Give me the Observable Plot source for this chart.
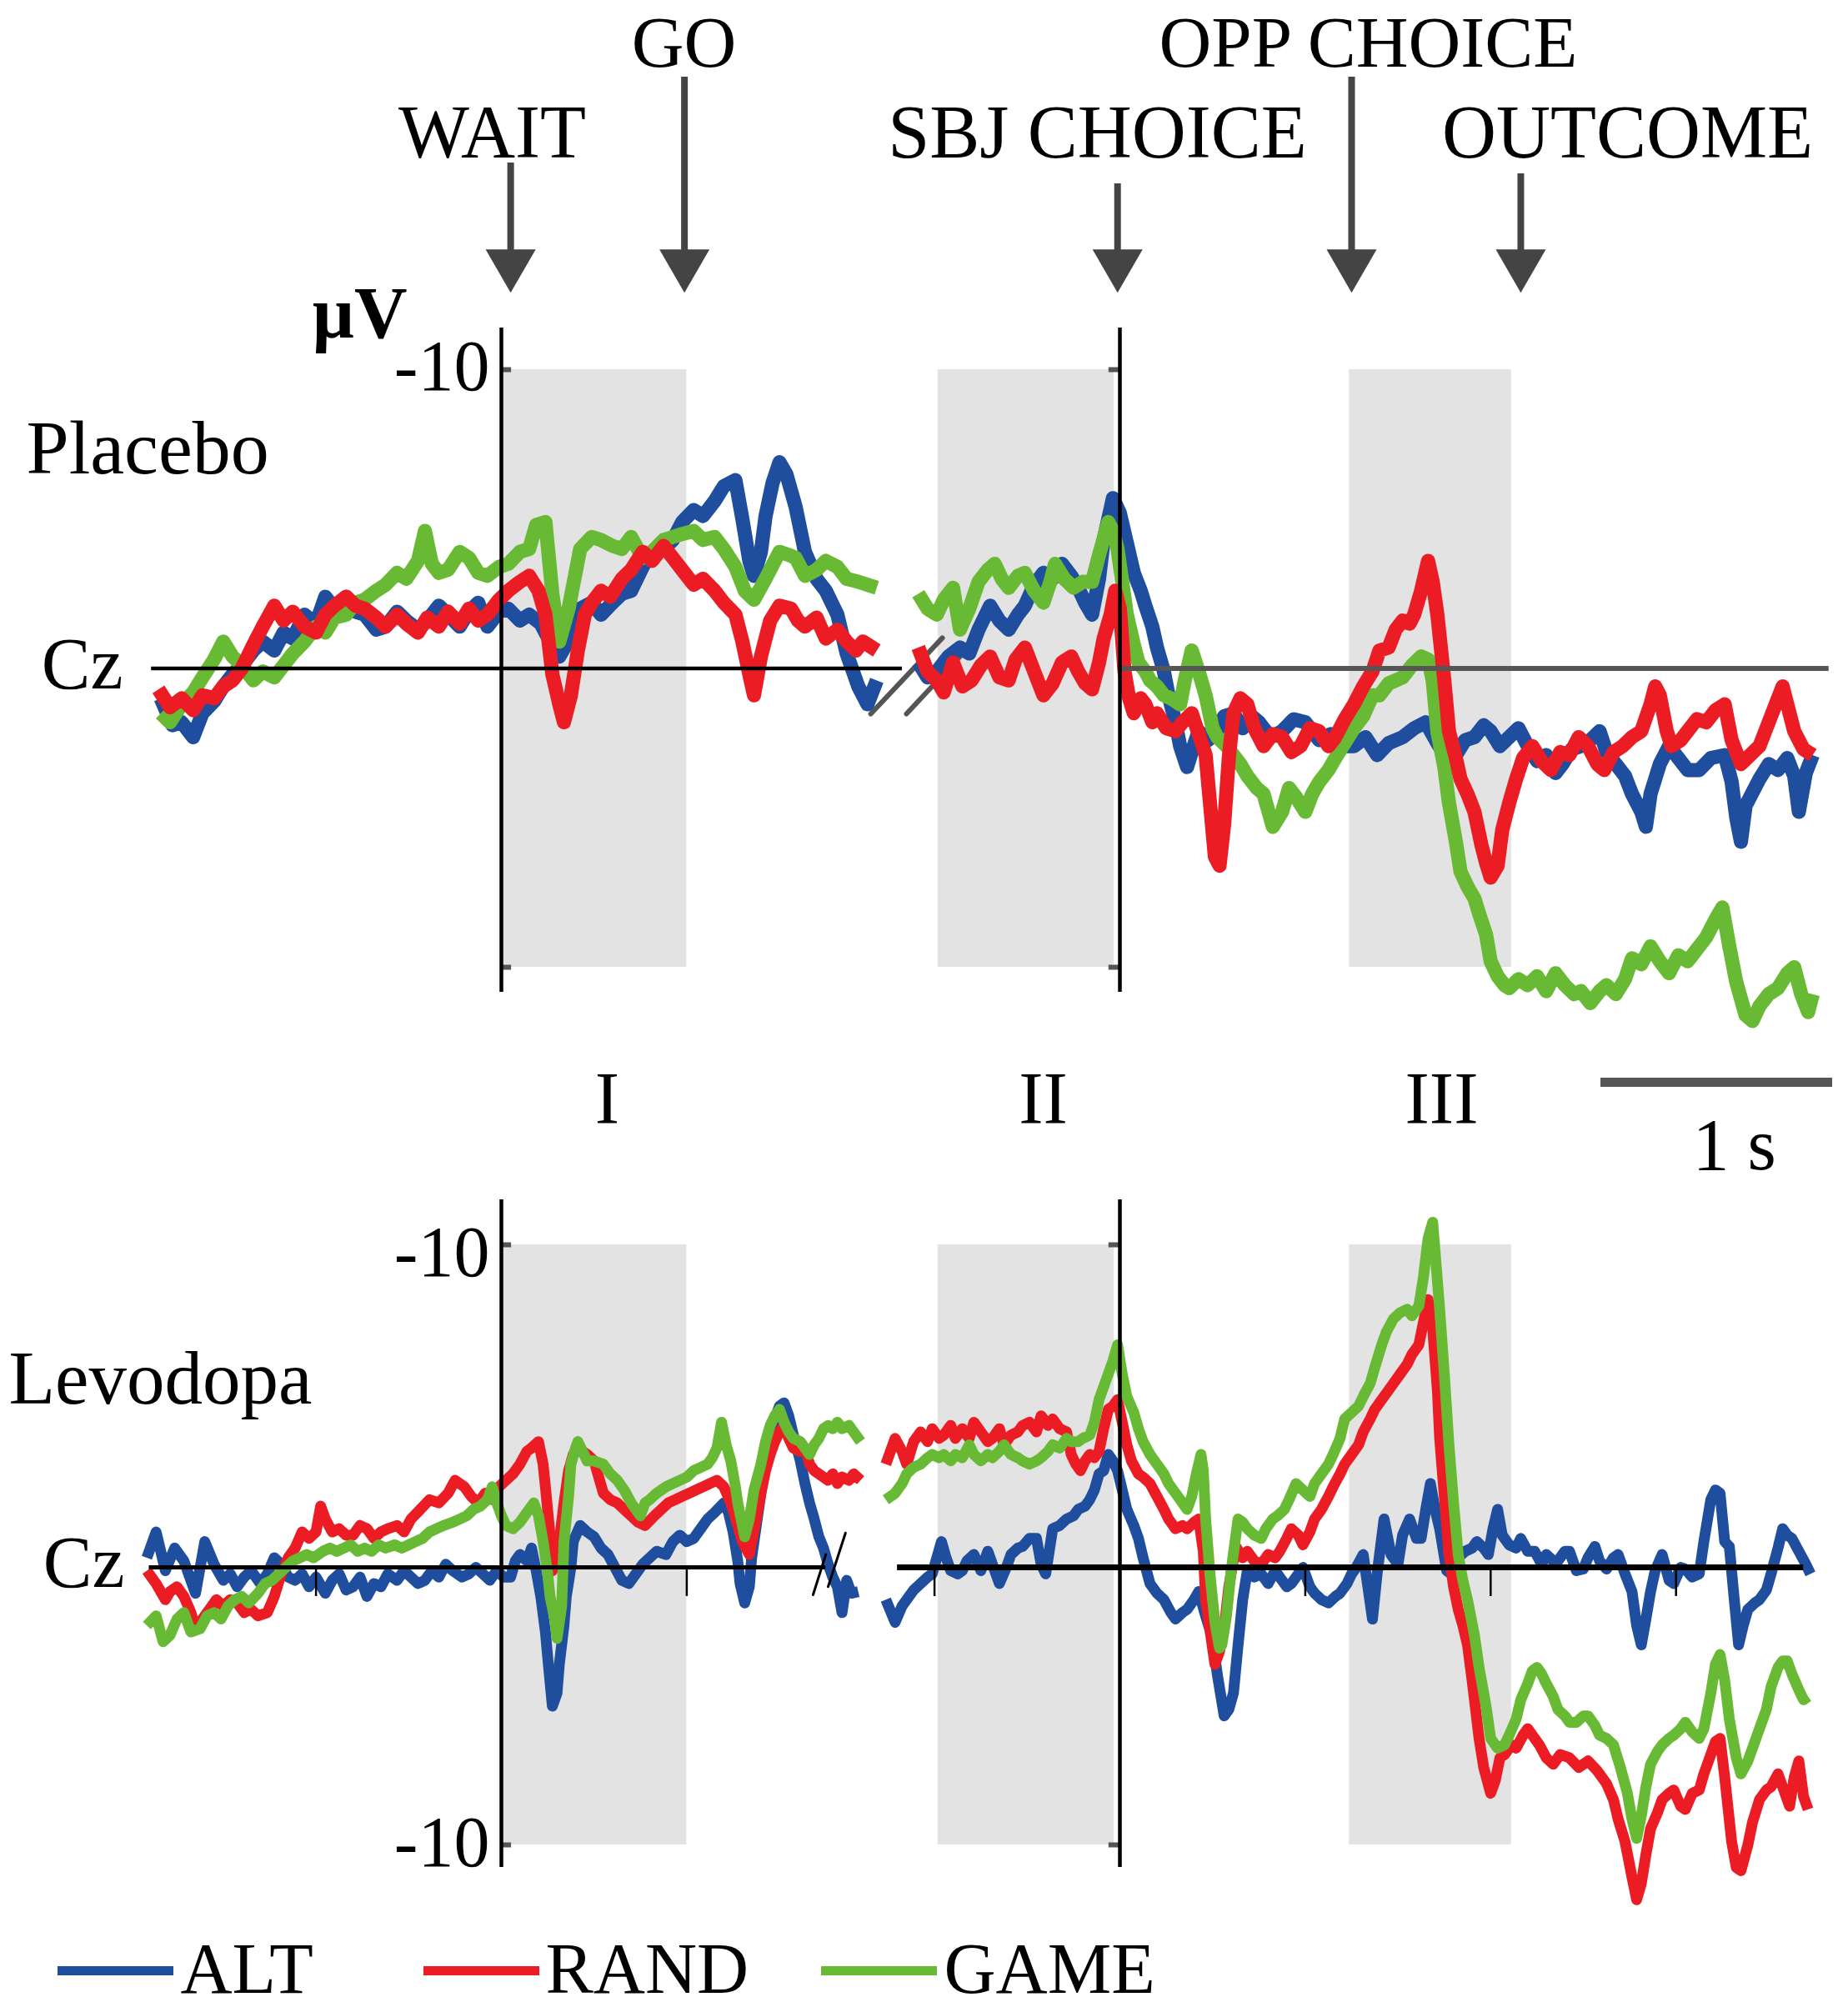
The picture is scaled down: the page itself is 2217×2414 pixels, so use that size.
<!DOCTYPE html>
<html><head><meta charset="utf-8">
<script src="https://cdn.jsdelivr.net/npm/d3@7"></script>
<script src="https://cdn.jsdelivr.net/npm/@observablehq/plot@0.6"></script>
<style>
html,body{margin:0;padding:0;background:#fff;}
#chart{width:2217px;}
#chart svg{display:block;}
</style></head><body><div id="chart"></div>
<script>
// ---------------- DATA ----------------
// Times in seconds. Segment 1: relative to WAIT; segment 2: relative to SBJ CHOICE. Values in µV (negative up).
const series = ["ALT", "RAND", "GAME"];
const events = ["WAIT", "GO", "SBJ CHOICE", "OPP CHOICE", "OUTCOME"];
const eventSeg1Times = [0.04, 0.79];          // WAIT, GO (segment 1)
const eventSeg2Times = [-0.01, 1.0, 1.73];    // SBJ CHOICE, OPP CHOICE, OUTCOME (segment 2)
const windowsSeg1 = [[0, 0.8]];                       // I
const windowsSeg2 = [[-0.785, -0.025], [0.99, 1.69]]; // II, III
const windowLabels = ["I", "II", "III"];
const yTickLabels = ["-10", "-10"];
const panelLabels = ["Placebo", "Levodopa"];
const channelLabel = "Cz";
const unitLabel = "µV";
const scaleBarLabel = "1 s";
const scaleBarSeconds = 1;
const levoBaselineTicksSeg1 = [-0.8, 0.8];
const levoBaselineTicksSeg2 = [-0.8, 0.8, 1.6, 2.4];

const placeboALT1 = [[-1.47,1.0],[-1.42,1.9],[-1.38,1.8],[-1.33,2.3],[-1.29,1.5],[-1.24,1.1],[-1.2,0.6],[-1.16,0.2],[-1.12,-0.1],[-1.07,-0.6],[-1.03,-0.9],[-0.98,-0.6],[-0.94,-1.2],[-0.9,-1.0],[-0.85,-1.8],[-0.8,-1.5],[-0.76,-2.4],[-0.72,-2.0],[-0.67,-2.4],[-0.63,-1.9],[-0.59,-1.8],[-0.54,-1.3],[-0.5,-1.4],[-0.45,-1.9],[-0.41,-1.6],[-0.36,-1.3],[-0.32,-1.6],[-0.27,-2.1],[-0.23,-1.8],[-0.18,-1.4],[-0.14,-1.9],[-0.1,-2.2],[-0.06,-1.4],[-0.01,-1.9],[0.03,-2.0],[0.08,-1.6],[0.12,-1.8],[0.17,-1.5],[0.21,-0.9],[0.25,-0.4],[0.28,-0.8],[0.3,-1.2],[0.34,-2.0],[0.39,-2.2],[0.43,-1.8],[0.48,-2.2],[0.52,-2.5],[0.56,-2.6],[0.61,-3.4],[0.65,-3.9],[0.7,-4.0],[0.74,-4.3],[0.78,-4.9],[0.83,-5.3],[0.87,-5.1],[0.92,-5.6],[0.96,-6.1],[1.01,-6.3],[1.04,-5.0],[1.07,-3.6],[1.09,-3.1],[1.12,-3.9],[1.14,-5.1],[1.17,-6.2],[1.2,-6.9],[1.23,-6.5],[1.27,-5.4],[1.31,-3.9],[1.36,-3.0],[1.4,-2.6],[1.45,-1.8],[1.49,-0.5],[1.54,0.6],[1.58,1.2],[1.62,0.4]];
const placeboRAND1 = [[-1.48,0.7],[-1.43,1.3],[-1.38,1.0],[-1.33,1.4],[-1.29,0.9],[-1.24,1.0],[-1.2,0.6],[-1.16,0.4],[-1.12,0.0],[-1.07,-0.8],[-1.03,-1.4],[-0.98,-2.1],[-0.94,-1.6],[-0.9,-1.9],[-0.85,-1.4],[-0.8,-1.2],[-0.76,-1.8],[-0.72,-2.1],[-0.67,-2.4],[-0.63,-2.1],[-0.59,-2.0],[-0.54,-1.7],[-0.5,-1.4],[-0.45,-1.8],[-0.41,-1.5],[-0.36,-1.2],[-0.32,-1.7],[-0.27,-1.4],[-0.23,-1.9],[-0.18,-1.5],[-0.14,-2.0],[-0.1,-1.6],[-0.06,-1.8],[-0.01,-2.3],[0.03,-2.6],[0.08,-2.9],[0.12,-3.1],[0.16,-2.6],[0.19,-1.8],[0.22,0.2],[0.25,1.2],[0.27,1.8],[0.3,0.9],[0.33,-0.6],[0.36,-1.8],[0.39,-2.2],[0.43,-2.6],[0.47,-2.4],[0.52,-3.0],[0.56,-3.3],[0.61,-3.9],[0.65,-3.6],[0.7,-4.1],[0.74,-3.7],[0.78,-3.3],[0.83,-2.8],[0.87,-3.0],[0.92,-2.6],[0.96,-2.2],[1.01,-1.8],[1.04,-0.9],[1.07,0.2],[1.09,0.9],[1.12,-0.4],[1.16,-1.6],[1.2,-2.1],[1.25,-2.0],[1.28,-1.6],[1.31,-1.4],[1.36,-1.7],[1.4,-1.0],[1.45,-1.3],[1.49,-0.9],[1.53,-0.6],[1.56,-0.9],[1.62,-0.6]];
const placeboGAME1 = [[-1.47,1.5],[-1.43,1.8],[-1.38,1.2],[-1.33,0.8],[-1.29,0.3],[-1.24,-0.3],[-1.2,-0.9],[-1.16,-0.4],[-1.12,-0.1],[-1.07,0.4],[-1.03,0.1],[-0.98,0.3],[-0.94,-0.1],[-0.9,-0.5],[-0.85,-0.9],[-0.8,-1.4],[-0.76,-1.2],[-0.72,-1.7],[-0.67,-1.8],[-0.63,-2.2],[-0.59,-2.3],[-0.54,-2.6],[-0.5,-2.8],[-0.45,-3.2],[-0.41,-3.0],[-0.36,-3.6],[-0.33,-4.6],[-0.3,-3.5],[-0.27,-3.2],[-0.23,-3.3],[-0.18,-3.9],[-0.14,-3.7],[-0.1,-3.2],[-0.06,-3.1],[-0.01,-3.4],[0.03,-3.5],[0.08,-3.9],[0.12,-4.0],[0.15,-4.8],[0.19,-4.9],[0.22,-2.5],[0.25,-0.9],[0.29,-2.0],[0.34,-4.0],[0.39,-4.4],[0.43,-4.3],[0.48,-4.1],[0.52,-4.0],[0.56,-4.4],[0.61,-3.7],[0.65,-3.9],[0.7,-4.3],[0.74,-4.4],[0.78,-4.5],[0.83,-4.6],[0.87,-4.3],[0.92,-4.4],[0.96,-4.0],[1.01,-3.4],[1.05,-2.6],[1.09,-2.3],[1.14,-3.0],[1.18,-3.6],[1.2,-3.9],[1.24,-3.8],[1.27,-3.7],[1.31,-3.1],[1.36,-3.3],[1.4,-3.6],[1.45,-3.4],[1.49,-3.0],[1.54,-2.9],[1.58,-2.8],[1.62,-2.7]];

const placeboALT2 = [[-0.87,-0.2],[-0.83,0.3],[-0.79,0.1],[-0.74,-0.4],[-0.69,-0.7],[-0.65,-0.5],[-0.61,-1.3],[-0.56,-2.1],[-0.52,-1.6],[-0.48,-1.3],[-0.44,-1.8],[-0.41,-2.1],[-0.37,-2.8],[-0.33,-3.2],[-0.29,-3.0],[-0.25,-3.5],[-0.21,-3.1],[-0.18,-2.7],[-0.15,-2.2],[-0.12,-1.8],[-0.09,-3.0],[-0.07,-4.3],[-0.03,-5.7],[0.0,-5.2],[0.03,-4.2],[0.06,-3.2],[0.09,-2.6],[0.11,-2.1],[0.14,-1.4],[0.16,-0.7],[0.19,0.1],[0.21,0.9],[0.24,1.8],[0.26,2.6],[0.29,3.3],[0.31,2.8],[0.34,2.1],[0.38,2.4],[0.42,2.1],[0.45,1.6],[0.49,1.5],[0.53,2.0],[0.57,1.6],[0.6,1.8],[0.65,2.3],[0.7,2.1],[0.75,1.7],[0.8,1.8],[0.86,2.4],[0.91,2.2],[0.96,2.6],[1.01,2.6],[1.06,2.3],[1.11,2.9],[1.16,2.5],[1.22,2.3],[1.27,2.0],[1.32,1.8],[1.37,2.5],[1.41,3.0],[1.45,2.9],[1.49,2.4],[1.53,2.3],[1.57,1.9],[1.6,2.1],[1.64,2.6],[1.68,2.3],[1.72,2.0],[1.76,2.6],[1.8,3.1],[1.84,2.9],[1.88,3.5],[1.91,3.2],[1.95,2.7],[1.99,2.6],[2.03,2.4],[2.07,2.1],[2.1,2.8],[2.14,3.2],[2.18,3.6],[2.21,4.2],[2.25,4.8],[2.27,5.3],[2.29,4.2],[2.33,3.2],[2.37,2.6],[2.4,2.9],[2.45,3.4],[2.5,3.4],[2.55,3.0],[2.61,2.9],[2.64,3.8],[2.66,5.0],[2.68,5.8],[2.7,4.6],[2.76,3.7],[2.8,3.2],[2.84,3.4],[2.88,3.0],[2.91,3.6],[2.93,4.8],[2.96,3.5],[2.99,2.9]];
const placeboRAND2 = [[-0.87,-0.7],[-0.83,0.1],[-0.79,0.4],[-0.76,0.8],[-0.72,-0.2],[-0.68,0.6],[-0.64,0.4],[-0.6,-0.1],[-0.56,-0.4],[-0.52,0.3],[-0.48,0.4],[-0.45,-0.3],[-0.41,-0.7],[-0.37,0.1],[-0.33,0.9],[-0.29,0.5],[-0.25,-0.2],[-0.21,-0.4],[-0.18,0.1],[-0.15,0.5],[-0.12,0.7],[-0.09,-0.2],[-0.07,-1.0],[-0.04,-1.8],[-0.02,-2.6],[0.0,-2.0],[0.02,0.1],[0.04,1.0],[0.06,1.5],[0.09,1.0],[0.11,1.2],[0.14,1.8],[0.16,1.5],[0.2,2.0],[0.24,2.1],[0.27,1.8],[0.31,1.5],[0.34,2.2],[0.37,2.9],[0.39,4.6],[0.41,6.3],[0.43,6.6],[0.45,5.2],[0.47,3.0],[0.49,1.5],[0.52,1.0],[0.55,1.2],[0.58,2.0],[0.62,2.6],[0.66,2.2],[0.7,2.3],[0.74,2.8],[0.78,2.6],[0.82,2.0],[0.86,2.1],[0.9,2.6],[0.93,2.3],[0.97,1.7],[1.01,1.2],[1.05,0.6],[1.09,0.1],[1.12,-0.6],[1.16,-0.7],[1.19,-1.3],[1.22,-1.6],[1.25,-1.5],[1.27,-1.8],[1.3,-2.6],[1.33,-3.6],[1.35,-2.9],[1.37,-1.8],[1.4,0.4],[1.42,2.1],[1.45,3.0],[1.47,3.7],[1.5,4.2],[1.53,4.8],[1.56,5.9],[1.58,6.5],[1.6,7.0],[1.63,6.6],[1.65,5.4],[1.68,4.5],[1.71,3.7],[1.74,3.0],[1.78,2.6],[1.82,3.1],[1.86,3.4],[1.9,2.8],[1.94,2.9],[1.98,2.3],[2.02,2.6],[2.06,3.2],[2.09,3.4],[2.13,2.8],[2.17,2.6],[2.21,2.3],[2.25,2.1],[2.29,1.2],[2.31,0.6],[2.33,0.9],[2.36,2.1],[2.38,2.6],[2.42,2.4],[2.45,2.1],[2.49,1.7],[2.53,1.8],[2.57,1.4],[2.61,1.2],[2.64,2.4],[2.68,3.2],[2.72,2.9],[2.76,2.6],[2.8,1.8],[2.84,1.0],[2.86,0.6],[2.88,1.2],[2.91,2.1],[2.95,2.7],[2.99,2.9]];
const placeboGAME2 = [[-0.87,-2.5],[-0.83,-2.0],[-0.79,-1.8],[-0.76,-2.3],[-0.72,-2.7],[-0.69,-1.3],[-0.65,-2.0],[-0.61,-2.9],[-0.57,-3.3],[-0.54,-3.5],[-0.51,-3.0],[-0.48,-2.7],[-0.44,-3.1],[-0.41,-3.2],[-0.37,-2.6],[-0.33,-2.2],[-0.3,-2.9],[-0.28,-3.5],[-0.24,-3.0],[-0.2,-2.7],[-0.16,-2.9],[-0.12,-2.9],[-0.09,-3.8],[-0.05,-4.9],[-0.03,-4.6],[-0.01,-4.0],[0.01,-2.9],[0.03,-1.8],[0.06,-0.8],[0.08,-0.2],[0.11,0.1],[0.13,0.4],[0.16,0.6],[0.19,0.9],[0.22,1.0],[0.26,1.2],[0.28,0.4],[0.31,-0.6],[0.34,0.1],[0.37,0.9],[0.4,2.0],[0.42,2.3],[0.46,2.6],[0.49,2.9],[0.52,3.2],[0.55,3.6],[0.59,4.0],[0.62,4.2],[0.66,5.3],[0.7,4.8],[0.73,4.0],[0.76,4.3],[0.8,4.8],[0.83,4.2],[0.86,3.8],[0.9,3.4],[0.93,3.0],[0.97,2.5],[1.01,2.0],[1.05,1.6],[1.09,0.9],[1.12,0.9],[1.16,0.5],[1.19,0.4],[1.22,0.3],[1.26,-0.1],[1.3,-0.4],[1.33,-0.3],[1.35,0.4],[1.37,2.1],[1.4,3.3],[1.42,4.5],[1.45,5.8],[1.47,6.8],[1.5,7.3],[1.53,7.7],[1.55,8.2],[1.58,8.9],[1.6,9.8],[1.63,10.3],[1.66,10.6],[1.68,10.7],[1.72,10.4],[1.76,10.6],[1.8,10.3],[1.84,10.8],[1.88,10.2],[1.92,10.6],[1.96,10.9],[1.99,10.8],[2.03,11.2],[2.07,10.8],[2.1,10.6],[2.14,10.9],[2.18,10.4],[2.21,9.7],[2.25,9.9],[2.29,9.3],[2.33,9.8],[2.37,10.2],[2.41,9.6],[2.45,9.8],[2.49,9.4],[2.53,9.0],[2.57,8.4],[2.6,8.0],[2.63,9.3],[2.66,10.5],[2.7,11.6],[2.73,11.8],[2.76,11.3],[2.8,10.9],[2.84,10.7],[2.88,10.2],[2.91,10.0],[2.94,10.9],[2.97,11.5],[2.99,10.9]];

const levoALT1 = [[-1.53,-0.3],[-1.49,-1.1],[-1.45,0.1],[-1.41,-0.6],[-1.37,-0.2],[-1.32,0.8],[-1.28,-0.8],[-1.24,-0.1],[-1.2,0.4],[-1.17,0.2],[-1.14,0.6],[-1.11,0.3],[-1.08,0.1],[-1.04,0.5],[-1.01,0.2],[-0.98,-0.3],[-0.95,-0.1],[-0.92,0.3],[-0.89,0.4],[-0.86,0.2],[-0.83,0.6],[-0.8,0.3],[-0.76,0.8],[-0.73,0.4],[-0.7,0.2],[-0.67,0.7],[-0.64,0.6],[-0.61,0.3],[-0.58,0.9],[-0.55,0.5],[-0.52,0.6],[-0.49,0.2],[-0.45,0.4],[-0.42,0.1],[-0.39,0.3],[-0.36,0.5],[-0.33,0.4],[-0.3,0.1],[-0.27,0.3],[-0.24,-0.1],[-0.21,0.1],[-0.17,0.3],[-0.14,0.2],[-0.11,0.0],[-0.08,0.2],[-0.05,0.4],[-0.02,0.1],[0.01,0.3],[0.04,0.3],[0.06,-0.2],[0.08,-0.4],[0.11,-0.2],[0.13,-0.6],[0.15,0.1],[0.17,0.9],[0.19,2.0],[0.2,2.8],[0.22,4.3],[0.24,3.9],[0.25,3.0],[0.27,1.8],[0.28,0.9],[0.3,0.0],[0.31,-0.8],[0.34,-1.3],[0.37,-1.1],[0.4,-0.95],[0.43,-0.6],[0.46,-0.4],[0.49,0.0],[0.52,0.4],[0.55,0.5],[0.58,0.2],[0.61,-0.1],[0.64,-0.3],[0.67,-0.5],[0.71,-0.4],[0.74,-0.8],[0.77,-1.0],[0.8,-0.8],[0.83,-0.9],[0.86,-1.2],[0.89,-1.5],[0.92,-1.7],[0.96,-2.0],[0.98,-1.7],[1.0,-1.1],[1.02,-0.2],[1.03,0.5],[1.05,1.1],[1.07,0.6],[1.08,-0.3],[1.1,-1.3],[1.12,-2.3],[1.14,-3.2],[1.16,-4.0],[1.18,-4.6],[1.2,-5.0],[1.22,-5.1],[1.24,-4.7],[1.26,-4.1],[1.29,-3.3],[1.31,-2.6],[1.33,-2.0],[1.35,-1.5],[1.37,-0.95],[1.39,-0.6],[1.41,-0.1],[1.43,0.3],[1.45,0.6],[1.47,1.4],[1.49,0.4],[1.51,0.8],[1.54,0.75]];
const levoRAND1 = [[-1.53,0.1],[-1.49,0.5],[-1.45,1.0],[-1.43,0.75],[-1.4,0.6],[-1.37,0.9],[-1.34,1.4],[-1.32,1.9],[-1.29,1.6],[-1.26,1.3],[-1.23,1.0],[-1.2,1.2],[-1.17,1.0],[-1.14,1.1],[-1.11,1.4],[-1.08,1.3],[-1.05,1.5],[-1.01,1.4],[-0.98,0.9],[-0.95,0.2],[-0.92,-0.3],[-0.89,-0.6],[-0.86,-1.1],[-0.83,-0.9],[-0.8,-1.1],[-0.78,-1.9],[-0.76,-1.5],[-0.73,-1.1],[-0.7,-1.2],[-0.67,-1.0],[-0.64,-1.0],[-0.61,-1.3],[-0.58,-1.2],[-0.55,-0.9],[-0.52,-1.1],[-0.49,-1.2],[-0.45,-1.3],[-0.42,-1.1],[-0.39,-1.5],[-0.35,-1.8],[-0.31,-2.1],[-0.27,-2.0],[-0.23,-2.3],[-0.2,-2.7],[-0.16,-2.5],[-0.13,-2.2],[-0.1,-2.0],[-0.07,-2.3],[-0.04,-2.1],[-0.01,-2.5],[0.02,-2.7],[0.05,-2.9],[0.08,-3.2],[0.11,-3.6],[0.13,-3.7],[0.16,-3.9],[0.18,-3.2],[0.19,-2.5],[0.21,-1.0],[0.22,0.1],[0.24,-0.3],[0.25,-0.8],[0.27,-2.0],[0.29,-3.0],[0.31,-3.5],[0.33,-3.7],[0.37,-3.5],[0.4,-3.3],[0.44,-2.3],[0.47,-2.1],[0.5,-2.0],[0.53,-1.8],[0.56,-1.6],[0.59,-1.4],[0.62,-1.3],[0.66,-1.6],[0.69,-1.8],[0.72,-2.0],[0.75,-2.1],[0.78,-2.2],[0.81,-2.3],[0.84,-2.4],[0.87,-2.5],[0.9,-2.6],[0.93,-2.7],[0.96,-2.5],[0.99,-2.0],[1.02,-1.3],[1.04,-0.8],[1.07,-0.4],[1.1,-1.5],[1.12,-2.3],[1.14,-3.0],[1.16,-3.5],[1.18,-3.9],[1.2,-4.2],[1.22,-4.4],[1.24,-4.0],[1.26,-3.7],[1.29,-3.6],[1.31,-3.7],[1.33,-3.2],[1.35,-3.0],[1.37,-2.9],[1.39,-2.8],[1.41,-2.7],[1.43,-2.9],[1.45,-2.6],[1.47,-2.8],[1.5,-2.7],[1.52,-2.9],[1.55,-2.7]];
const levoGAME1 = [[-1.53,1.8],[-1.49,1.5],[-1.46,2.3],[-1.43,2.1],[-1.4,1.6],[-1.37,1.4],[-1.34,2.0],[-1.3,1.9],[-1.27,1.5],[-1.24,1.4],[-1.21,1.6],[-1.18,1.2],[-1.15,1.0],[-1.12,0.9],[-1.09,1.1],[-1.05,0.8],[-1.02,0.5],[-0.99,0.4],[-0.96,0.2],[-0.93,0.0],[-0.9,-0.2],[-0.87,-0.3],[-0.84,-0.4],[-0.81,-0.3],[-0.77,-0.5],[-0.74,-0.6],[-0.71,-0.5],[-0.68,-0.6],[-0.65,-0.7],[-0.62,-0.5],[-0.59,-0.6],[-0.56,-0.5],[-0.53,-0.7],[-0.5,-0.6],[-0.46,-0.7],[-0.43,-0.6],[-0.4,-0.7],[-0.37,-0.8],[-0.34,-0.9],[-0.31,-1.1],[-0.28,-1.2],[-0.25,-1.3],[-0.21,-1.4],[-0.18,-1.5],[-0.15,-1.6],[-0.12,-1.8],[-0.09,-1.9],[-0.06,-2.1],[-0.04,-2.5],[-0.02,-2.0],[0.0,-1.6],[0.02,-1.3],[0.05,-1.2],[0.08,-1.4],[0.11,-1.7],[0.14,-2.0],[0.16,-1.6],[0.18,-0.8],[0.2,0.2],[0.21,0.9],[0.23,1.6],[0.24,2.2],[0.26,1.2],[0.27,-0.8],[0.29,-2.2],[0.3,-3.2],[0.32,-3.7],[0.33,-3.9],[0.35,-3.6],[0.37,-3.3],[0.4,-3.3],[0.44,-3.2],[0.47,-2.9],[0.5,-2.7],[0.53,-2.4],[0.56,-2.0],[0.58,-1.8],[0.6,-1.6],[0.62,-2.0],[0.64,-2.1],[0.67,-2.3],[0.71,-2.5],[0.74,-2.6],[0.77,-2.7],[0.8,-2.8],[0.83,-3.0],[0.86,-3.1],[0.89,-3.2],[0.91,-3.4],[0.93,-3.7],[0.95,-4.5],[0.97,-3.8],[0.99,-3.3],[1.01,-2.5],[1.02,-2.0],[1.04,-1.3],[1.05,-0.95],[1.07,-1.5],[1.09,-2.4],[1.12,-3.2],[1.14,-3.9],[1.16,-4.4],[1.18,-4.7],[1.2,-4.9],[1.22,-4.5],[1.24,-4.2],[1.26,-4.0],[1.29,-3.9],[1.31,-3.7],[1.33,-3.5],[1.35,-3.8],[1.37,-4.0],[1.39,-4.3],[1.41,-4.4],[1.43,-4.3],[1.45,-4.5],[1.47,-4.3],[1.5,-4.4],[1.52,-4.2],[1.55,-3.9]];

const levoALT2 = [[-1.01,1.0],[-0.97,1.7],[-0.94,1.2],[-0.92,1.0],[-0.89,0.7],[-0.86,0.5],[-0.83,0.3],[-0.81,0.2],[-0.79,-0.3],[-0.77,-0.8],[-0.75,-0.3],[-0.73,0.1],[-0.7,0.2],[-0.68,0.1],[-0.66,-0.2],[-0.63,-0.4],[-0.6,0.1],[-0.57,-0.5],[-0.54,0.1],[-0.52,0.5],[-0.49,0.0],[-0.47,-0.4],[-0.44,-0.6],[-0.42,-0.65],[-0.39,-0.9],[-0.36,-0.9],[-0.34,-0.1],[-0.32,0.2],[-0.29,-1.2],[-0.26,-1.3],[-0.23,-1.5],[-0.2,-1.6],[-0.18,-1.8],[-0.15,-1.9],[-0.13,-2.1],[-0.11,-2.4],[-0.09,-2.9],[-0.07,-3.0],[-0.05,-3.5],[-0.03,-3.3],[-0.01,-3.0],[0.01,-2.4],[0.03,-1.8],[0.06,-1.3],[0.08,-0.9],[0.1,-0.3],[0.13,0.5],[0.16,0.8],[0.19,1.0],[0.22,1.4],[0.24,1.6],[0.27,1.4],[0.29,1.3],[0.32,1.0],[0.34,0.75],[0.37,1.5],[0.4,2.2],[0.42,3.3],[0.45,4.6],[0.47,4.4],[0.49,3.9],[0.51,2.4],[0.53,1.0],[0.55,0.1],[0.58,0.3],[0.61,0.2],[0.64,0.5],[0.67,0.1],[0.69,0.3],[0.72,0.6],[0.74,0.5],[0.77,0.2],[0.79,0.0],[0.82,0.6],[0.84,0.8],[0.87,1.0],[0.9,1.1],[0.93,0.9],[0.95,0.8],[0.98,0.5],[1.0,0.2],[1.02,0.0],[1.05,-0.4],[1.07,0.6],[1.09,1.6],[1.11,0.2],[1.14,-1.5],[1.17,-0.4],[1.2,-0.1],[1.22,-1.0],[1.25,-1.5],[1.28,-0.9],[1.3,-0.9],[1.32,-1.8],[1.34,-2.6],[1.36,-1.8],[1.38,-1.2],[1.41,0.1],[1.43,0.2],[1.46,-0.3],[1.49,-0.5],[1.52,-0.6],[1.54,-0.8],[1.57,-0.6],[1.59,-0.4],[1.61,-1.2],[1.63,-1.8],[1.65,-1.0],[1.68,-0.7],[1.71,-0.6],[1.73,-0.9],[1.76,-0.5],[1.79,-0.5],[1.82,-0.1],[1.84,-0.4],[1.87,-0.2],[1.89,-0.2],[1.92,-0.5],[1.94,-0.5],[1.97,0.1],[2.0,0.05],[2.02,-0.3],[2.05,-0.65],[2.07,-0.2],[2.1,0.05],[2.13,-0.3],[2.15,-0.4],[2.18,0.2],[2.21,0.75],[2.23,1.8],[2.25,2.4],[2.27,1.6],[2.29,0.75],[2.31,0.1],[2.34,-0.4],[2.37,0.4],[2.39,0.5],[2.42,0.0],[2.44,0.05],[2.47,0.3],[2.5,0.2],[2.52,-0.8],[2.55,-2.1],[2.57,-2.4],[2.59,-2.3],[2.61,-0.8],[2.63,-0.65],[2.65,0.9],[2.67,2.4],[2.69,1.8],[2.71,1.3],[2.74,1.1],[2.76,1.0],[2.79,0.7],[2.81,0.2],[2.84,-0.6],[2.86,-1.2],[2.88,-1.0],[2.9,-0.9],[2.93,-0.5],[2.96,-0.1],[2.98,0.2]];
const levoRAND2 = [[-1.01,-3.2],[-0.97,-4.0],[-0.94,-3.6],[-0.92,-3.2],[-0.89,-3.9],[-0.86,-4.2],[-0.83,-3.9],[-0.81,-4.3],[-0.78,-4.0],[-0.76,-4.1],[-0.73,-4.4],[-0.71,-4.0],[-0.68,-4.3],[-0.65,-4.0],[-0.63,-4.5],[-0.6,-4.2],[-0.57,-3.9],[-0.55,-4.0],[-0.52,-4.3],[-0.5,-3.8],[-0.47,-4.1],[-0.44,-4.2],[-0.42,-4.4],[-0.39,-4.5],[-0.36,-4.2],[-0.34,-4.7],[-0.31,-4.4],[-0.29,-4.6],[-0.26,-4.3],[-0.23,-4.2],[-0.21,-3.5],[-0.19,-3.2],[-0.17,-3.0],[-0.15,-3.3],[-0.13,-3.5],[-0.11,-3.4],[-0.09,-3.6],[-0.07,-4.3],[-0.05,-4.9],[-0.03,-5.0],[-0.01,-5.2],[0.01,-4.5],[0.03,-3.8],[0.05,-3.3],[0.08,-2.9],[0.1,-2.8],[0.13,-2.6],[0.16,-2.2],[0.19,-1.8],[0.21,-1.5],[0.24,-1.2],[0.27,-1.3],[0.29,-1.2],[0.32,-1.4],[0.34,-1.5],[0.36,-0.5],[0.37,1.0],[0.39,2.0],[0.41,3.0],[0.43,2.6],[0.45,1.9],[0.47,0.6],[0.5,-0.65],[0.53,-0.3],[0.55,-0.5],[0.58,-0.2],[0.61,-0.1],[0.64,-0.4],[0.67,-0.3],[0.69,-0.5],[0.72,-0.9],[0.74,-1.2],[0.77,-1.0],[0.79,-0.7],[0.82,-1.1],[0.84,-1.5],[0.87,-1.8],[0.9,-2.2],[0.92,-2.5],[0.95,-2.9],[0.97,-3.2],[1.0,-3.5],[1.03,-3.8],[1.05,-4.2],[1.08,-4.6],[1.1,-4.9],[1.13,-5.2],[1.16,-5.5],[1.18,-5.7],[1.21,-6.0],[1.24,-6.3],[1.26,-6.6],[1.29,-6.9],[1.31,-7.6],[1.33,-8.3],[1.35,-7.4],[1.37,-5.5],[1.38,-4.0],[1.4,-2.2],[1.42,-0.4],[1.44,0.6],[1.46,1.3],[1.48,1.8],[1.5,2.4],[1.52,3.5],[1.55,5.3],[1.57,6.2],[1.6,7.0],[1.62,6.6],[1.64,5.9],[1.66,5.8],[1.69,5.5],[1.71,5.6],[1.74,5.2],[1.76,5.0],[1.79,5.3],[1.81,5.5],[1.84,5.9],[1.87,6.1],[1.9,5.8],[1.94,5.9],[1.98,6.2],[2.02,6.0],[2.06,6.3],[2.1,6.7],[2.13,7.2],[2.15,7.8],[2.18,8.5],[2.21,9.6],[2.23,10.3],[2.25,9.8],[2.27,8.9],[2.29,8.1],[2.32,7.6],[2.34,7.2],[2.37,7.0],[2.39,6.9],[2.42,7.4],[2.44,7.5],[2.47,7.0],[2.5,6.9],[2.52,6.4],[2.55,5.8],[2.57,5.4],[2.59,5.3],[2.61,6.5],[2.64,8.5],[2.66,9.3],[2.68,9.4],[2.71,8.6],[2.73,7.9],[2.76,7.2],[2.79,6.9],[2.81,6.8],[2.84,6.4],[2.86,6.8],[2.89,7.4],[2.91,6.5],[2.93,6.0],[2.95,7.1],[2.97,7.5]];
const levoGAME2 = [[-1.01,-2.1],[-0.97,-2.3],[-0.94,-2.6],[-0.92,-2.9],[-0.89,-3.1],[-0.86,-3.2],[-0.83,-3.4],[-0.81,-3.5],[-0.78,-3.4],[-0.76,-3.5],[-0.73,-3.3],[-0.71,-3.5],[-0.68,-3.4],[-0.65,-3.8],[-0.63,-3.5],[-0.6,-3.3],[-0.57,-3.5],[-0.55,-3.4],[-0.52,-3.6],[-0.5,-3.8],[-0.47,-3.5],[-0.44,-3.4],[-0.42,-3.3],[-0.39,-3.2],[-0.36,-3.3],[-0.34,-3.4],[-0.31,-3.6],[-0.29,-3.8],[-0.26,-3.7],[-0.23,-4.0],[-0.21,-3.9],[-0.18,-3.9],[-0.16,-4.0],[-0.13,-4.1],[-0.11,-4.5],[-0.09,-5.2],[-0.07,-5.6],[-0.05,-6.0],[-0.03,-6.4],[-0.01,-6.9],[0.01,-6.0],[0.03,-5.3],[0.06,-4.8],[0.08,-4.3],[0.1,-3.9],[0.13,-3.5],[0.16,-3.2],[0.19,-2.9],[0.21,-2.6],[0.24,-2.3],[0.26,-2.1],[0.29,-1.8],[0.31,-2.2],[0.33,-2.9],[0.35,-3.5],[0.36,-3.0],[0.37,-1.5],[0.39,0.3],[0.41,1.7],[0.43,2.5],[0.44,2.4],[0.46,1.5],[0.48,0.1],[0.51,-1.5],[0.53,-1.4],[0.55,-1.2],[0.58,-1.0],[0.61,-0.9],[0.63,-1.2],[0.66,-1.5],[0.68,-1.6],[0.71,-1.8],[0.73,-2.1],[0.76,-2.6],[0.79,-2.4],[0.82,-2.2],[0.84,-2.6],[0.87,-2.9],[0.9,-3.2],[0.92,-3.5],[0.95,-4.0],[0.97,-4.6],[1.0,-4.8],[1.03,-5.0],[1.05,-5.3],[1.08,-5.7],[1.1,-6.2],[1.13,-6.9],[1.15,-7.3],[1.18,-7.7],[1.21,-7.9],[1.24,-8.0],[1.26,-7.8],[1.29,-8.1],[1.31,-9.0],[1.33,-10.2],[1.35,-10.7],[1.36,-9.8],[1.38,-8.0],[1.4,-6.0],[1.42,-3.8],[1.44,-2.0],[1.46,-0.4],[1.48,0.4],[1.5,1.0],[1.53,2.1],[1.55,3.1],[1.58,4.3],[1.6,5.3],[1.63,5.6],[1.66,5.5],[1.68,5.2],[1.71,4.7],[1.73,4.1],[1.76,3.6],[1.78,3.2],[1.8,3.1],[1.82,3.3],[1.84,3.6],[1.87,4.0],[1.89,4.4],[1.92,4.6],[1.94,4.8],[1.97,4.8],[2.0,4.6],[2.02,4.6],[2.05,4.9],[2.07,5.2],[2.1,5.3],[2.13,5.5],[2.16,6.2],[2.19,7.0],[2.21,7.8],[2.23,8.4],[2.25,7.7],[2.27,6.8],[2.29,6.1],[2.32,5.7],[2.34,5.5],[2.37,5.3],[2.39,5.2],[2.42,5.0],[2.44,4.8],[2.47,5.1],[2.5,5.3],[2.52,5.0],[2.55,3.9],[2.57,3.0],[2.59,2.7],[2.61,3.5],[2.63,4.7],[2.66,5.9],[2.68,6.4],[2.71,6.0],[2.73,5.6],[2.76,5.0],[2.79,4.4],[2.81,3.7],[2.84,3.1],[2.86,2.9],[2.88,2.9],[2.9,3.3],[2.93,3.8],[2.95,4.1],[2.97,4.0]];

// ---------------- LAYOUT ----------------
const W = 2217;
const PX_PER_S = 278;          // 1 s on the page
const T0_PX = 601;             // WAIT axis position
const OFFSET = (1343 - T0_PX) / PX_PER_S;  // display offset of segment 2 (SBJ CHOICE axis)
const X_DOMAIN = [-T0_PX / PX_PER_S, (W - T0_PX) / PX_PER_S];
const FONT = '"Liberation Serif", "Times New Roman", Times, serif';
const COLOR = {ALT: "#1f4e9e", RAND: "#ec1c24", GAME: "#68ba34"};
const SHADE = "#e3e3e3", DARK = "#444", GRAY = "#555";
const TOP_SW = 17, BOT_SW = 13;

const xs = d3.scaleLinear().domain(X_DOMAIN).range([0, W]);
const shift = arr => arr.map(([t, v]) => [t + OFFSET, v]);

const TOP_H = 1420, BOT_H = 2414 - TOP_H;
const TOP_Y = {domain: [-10, 10], range: [443, 1160]};
const BOT_Y = {domain: [-10, 8.6], range: [1493 - TOP_H, 2213 - TOP_H]};
const yTop = d3.scaleLinear().domain(TOP_Y.domain).range(TOP_Y.range);
const yBot = d3.scaleLinear().domain(BOT_Y.domain).range(BOT_Y.range);

const trace = (data, key, sw) => Plot.line(data, {x: d => d[0], y: d => d[1], stroke: COLOR[key], strokeWidth: sw, strokeLinejoin: "round", strokeLinecap: "butt"});
const txt = (s, xpx, y, opts) => Plot.text([s], {x: xs.invert(xpx), y, text: d => d, fill: "black", lineAnchor: "bottom", ...opts});

function windowsMarks(y1, y2) {
  const w = [...windowsSeg1, ...windowsSeg2.map(([a, b]) => [a + OFFSET, b + OFFSET])];
  return Plot.rect(w, {x1: d => d[0], x2: d => d[1], y1, y2, fill: SHADE});
}
function axesMarks(y1, y2, tickVals, sw) {
  const tickLen = 11 / PX_PER_S;
  return [
    Plot.ruleY(tickVals, {y: d => d, x1: 0, x2: tickLen * 1.1, stroke: GRAY, strokeWidth: 6}),
    Plot.ruleY(tickVals, {y: d => d, x1: OFFSET - tickLen * 1.2, x2: OFFSET, stroke: GRAY, strokeWidth: 6}),
    Plot.ruleX([0, OFFSET], {x: d => d, y1, y2, stroke: "black", strokeWidth: sw})
  ];
}

const eventTimes = [...eventSeg1Times, ...eventSeg2Times.map(t => t + OFFSET)];
const shaftTopPx = [195, 92, 220, 92, 208];
const labelCenterPx = [590, 820, 1316, 1641, 1952];
const labelBasePx = [188, 79, 188, 79, 188];
const labelSize = [90, 87, 90, 87, 90];

const common = {
  width: W, marginLeft: 0, marginRight: 0, marginTop: 0, marginBottom: 0,
  style: {fontFamily: FONT, background: "white", overflow: "visible", color: "black"}
};

// ---------------- TOP (Placebo) ----------------
const topPlot = Plot.plot({
  ...common, height: TOP_H,
  x: {domain: X_DOMAIN, range: [0, W], axis: null},
  y: {...TOP_Y, axis: null},
  marks: [
    windowsMarks(-10, 10),
    // axis-break marks
    Plot.line([[1.594, 1.52], [1.903, -1.02]], {x: d => d[0], y: d => d[1], stroke: GRAY, strokeWidth: 6}),
    Plot.line([[1.748, 1.52], [2.054, -1.02]], {x: d => d[0], y: d => d[1], stroke: GRAY, strokeWidth: 6}),
    trace(placeboALT1, "ALT", TOP_SW), trace(placeboGAME1, "GAME", TOP_SW), trace(placeboRAND1, "RAND", TOP_SW),
    trace(shift(placeboALT2), "ALT", TOP_SW), trace(shift(placeboGAME2), "GAME", TOP_SW), trace(shift(placeboRAND2), "RAND", TOP_SW),
    Plot.ruleY([0], {x1: -1.51, x2: 1.73, stroke: "black", strokeWidth: 4.5}),
    Plot.ruleY([0], {x1: OFFSET, x2: OFFSET + 3.06, stroke: GRAY, strokeWidth: 6}),
    ...axesMarks(yTop.invert(393), yTop.invert(1190), [-10, 10], 4.5),
    // event arrows
    Plot.ruleX(eventTimes, {x: d => d, y1: (d, i) => yTop.invert(shaftTopPx[i]), y2: yTop.invert(300), stroke: DARK, strokeWidth: 8}),
    Plot.dot(eventTimes, {x: d => d, y: yTop.invert(316), symbol: "triangle", r: 22.3, fill: DARK, rotate: 180}),
    ...events.map((e, i) => txt(e, labelCenterPx[i], yTop.invert(labelBasePx[i]), {fontSize: labelSize[i], textAnchor: "middle"})),
    txt(unitLabel, 431, yTop.invert(404), {fontSize: 88, fontWeight: "bold", textAnchor: "middle"}),
    txt(yTickLabels[0], 587, yTop.invert(467), {fontSize: 86, textAnchor: "end"}),
    txt(panelLabels[0], 31, yTop.invert(567), {fontSize: 92, textAnchor: "start"}),
    txt(channelLabel, 147, yTop.invert(825), {fontSize: 88, textAnchor: "end"}),
    // window labels
    Plot.text(windowLabels, {x: (d, i) => xs.invert([728, 1251, 1729][i]), y: yTop.invert(1346), text: d => d, fontSize: 88, lineAnchor: "bottom", textAnchor: "middle", fill: "black"}),
    // scale bar
    Plot.ruleY([yTop.invert(1298)], {y: d => d, x1: xs.invert(1920), x2: xs.invert(1920) + scaleBarSeconds, stroke: GRAY, strokeWidth: 11}),
    txt(scaleBarLabel, 2080, yTop.invert(1402), {fontSize: 88, textAnchor: "middle"})
  ]
});

// ---------------- BOTTOM (Levodopa) ----------------
const legendX = [[69, 208, 216], [508, 647, 654], [985, 1124, 1132]];
const botPlot = Plot.plot({
  ...common, height: BOT_H,
  x: {domain: X_DOMAIN, range: [0, W], axis: null},
  y: {...BOT_Y, axis: null},
  marks: [
    windowsMarks(-10, 8.6),
    trace(levoALT1, "ALT", BOT_SW), trace(levoRAND1, "RAND", BOT_SW), trace(levoGAME1, "GAME", BOT_SW),
    trace(shift(levoALT2), "ALT", BOT_SW), trace(shift(levoRAND2), "RAND", BOT_SW), trace(shift(levoGAME2), "GAME", BOT_SW),
    Plot.ruleY([0], {x1: -1.52, x2: 1.40, stroke: "black", strokeWidth: 5}),
    Plot.ruleY([0], {x1: OFFSET - 0.96, x2: OFFSET + 2.95, stroke: "black", strokeWidth: 7}),
    Plot.ruleX([...levoBaselineTicksSeg1, ...levoBaselineTicksSeg2.map(t => t + OFFSET)], {x: d => d, y1: 0, y2: 0.9, stroke: "black", strokeWidth: 2.5}),
    Plot.line([[1.345, 0.85], [1.40, -0.4]], {x: d => d[0], y: d => d[1], stroke: "black", strokeWidth: 3}),
    Plot.line([[1.41, 0.6], [1.485, -1.07]], {x: d => d[0], y: d => d[1], stroke: "black", strokeWidth: 3}),
    ...axesMarks(yBot.invert(1439 - TOP_H), yBot.invert(2240 - TOP_H), [-10, 8.6], 4.5),
    txt(yTickLabels[0], 587, yBot.invert(1530 - TOP_H), {fontSize: 86, textAnchor: "end"}),
    txt(yTickLabels[1], 587, yBot.invert(2238 - TOP_H), {fontSize: 86, textAnchor: "end"}),
    txt(panelLabels[1], 10, yBot.invert(1683 - TOP_H), {fontSize: 91, textAnchor: "start"}),
    txt(channelLabel, 149, yBot.invert(1903 - TOP_H), {fontSize: 88, textAnchor: "end"}),
    // legend
    Plot.ruleY(series, {y: yBot.invert(2364 - TOP_H), x1: (d, i) => xs.invert(legendX[i][0]), x2: (d, i) => xs.invert(legendX[i][1]), stroke: d => COLOR[d], strokeWidth: 11}),
    Plot.text(series, {x: (d, i) => xs.invert(legendX[i][2]), y: yBot.invert(2390 - TOP_H), text: d => d, fontSize: 86, lineAnchor: "bottom", textAnchor: "start", fill: "black"})
  ]
});

document.getElementById("chart").append(topPlot, botPlot);
</script></body></html>
